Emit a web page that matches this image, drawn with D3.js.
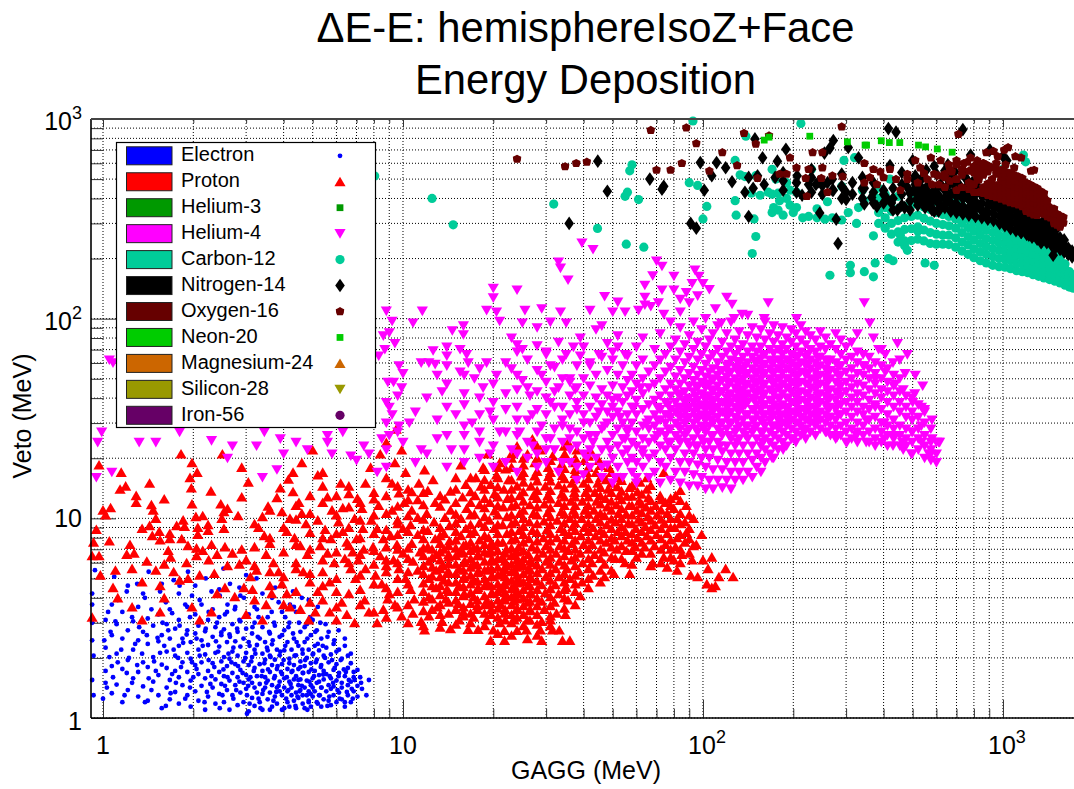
<!DOCTYPE html>
<html><head><meta charset="utf-8"><script src="https://cdn.jsdelivr.net/npm/d3@7"></script>
<style>html,body{margin:0;background:#fff;overflow:hidden}svg{display:block}text{font-family:"Liberation Sans",Arial,sans-serif;fill:#000}</style></head>
<body><svg id="c" width="1074" height="789"></svg>
<script>
const titleLines=["\u0394E-E: hemisphereIsoZ+Face","Energy Deposition"];
const xLabel="GAGG (MeV)", yLabel="Veto (MeV)";
const decades=[1,10,100,1000];
const minorMultiples=[2,3,4,5,6,7,8,9];
const legendNames=["Electron","Proton","Helium-3","Helium-4","Carbon-12","Nitrogen-14","Oxygen-16","Neon-20","Magnesium-24","Silicon-28","Iron-56"];
const legendColors=["#0000ff","#ff0000","#009900","#ff00ff","#00cc99","#000000","#660000","#00cc00","#cc6600","#999900","#660066"];
const legendShapes=["dot","up","square","down","circle","diamond","star","square","up","down","circle"];

// flat lists: GAGG, Veto, GAGG, Veto ... in MeV
const electronData=[1,1.25,1.03,1.42,1.08,1.6,1.02,1.72,1.12,1.9,1.05,2.02,1.15,2.2,1.01,2.45,1.06,2.7,1.1,3.05,1.04,3.4,1.12,3.9,1.2,4.3,1.09,5.1,.93,1.3,.92,1.55,.93,2.05,.92,2.45,.92,3,.92,3.7,.92,4.2,.94,5.5,
1.18,1.3,1.25,1.5,1.2,1.68,1.3,1.84,1.22,2,1.35,2.1,1.28,2.35,1.4,2.6,1.32,2.85,1.25,3.2,1.45,3.5,1.38,4,1.3,4.7,1.42,5.4,1.38,1.2,1.45,1.38,1.42,1.58,1.5,1.72,1.48,1.92,1.55,2.12,1.6,2.3,1.52,2.52,1.65,2.75,1.58,3,1.7,3.35,1.62,3.8,1.55,4.3,1.72,4.9,1.6,5.9,
1.62,1.15,1.68,1.33,1.75,1.5,1.7,1.66,1.82,1.8,1.78,2,1.72,2.2,1.85,2.38,1.9,2.62,1.8,2.9,1.95,3.2,1.88,3.7,1.98,4.1,1.8,4.6,1.92,5.4,1.88,1.25,1.95,1.42,2,1.6,2.05,1.76,1.98,1.9,2.1,2.05,2.15,2.3,2.05,2.5,2.2,2.8,2.12,3.05,2.25,3.4,2.1,3.9,2.3,4.3,2.2,5,
2.18,1.2,2.22,1.35,2.28,1.48,2.3,1.62,2.35,1.8,2.25,1.95,2.42,2.15,2.38,2.42,2.48,2.68,2.4,3,2.55,3.3,2.6,3.7,2.45,4.1,2.65,4.7,2.52,5.6,2.45,1.12,2.5,1.3,2.55,1.45,2.6,1.6,2.52,1.75,2.68,1.9,2.62,2.1,2.72,2.25,2.65,2.55,2.8,2.8,2.85,3.1,2.75,3.5,2.95,4,2.85,4.5,3,5.2,
2.72,1.25,2.78,1.38,2.85,1.52,2.92,1.68,2.82,1.82,2.98,2,3.02,1.3,3.05,1.45,3.1,1.6,3.18,1.72,3.12,1.92,3.22,2.1,3.08,2.3,3.28,2.55,3.15,2.85,3.3,3.2,3.2,3.6,3.4,4.2,3.25,5,
3.02,1.05,3.08,1.18,3.35,1.12,3.3,1.25,3.42,1.38,3.5,1.5,3.38,1.62,3.55,1.75,3.45,1.88,3.62,2.02,3.52,2.25,3.68,2.45,3.58,2.7,3.72,3,3.65,3.4,3.85,3.8,3.75,4.5,
3.6,1.1,3.7,1.22,3.78,1.35,3.85,1.45,3.72,1.58,3.92,1.7,3.82,1.82,4,1.95,3.9,2.15,4.05,2.3,3.95,2.6,4.15,2.85,4.05,3.2,4.2,3.7,4.3,4.3,
4.02,1.12,4.08,1.25,4.15,1.38,4.22,1.48,4.1,1.6,4.28,1.72,4.18,1.88,4.35,2.05,4.42,2.4,4.3,2.65,4.5,3,4.4,3.4,4.6,4,
4.38,1.15,4.45,1.28,4.52,1.36,4.6,1.45,4.48,1.55,4.65,1.68,4.55,1.8,4.72,1.95,4.62,2.2,4.8,2.5,4.7,2.85,4.9,3.2,4.85,3.9,
4.8,1.1,4.85,1.22,4.92,1.32,5,1.42,4.88,1.52,5.05,1.62,4.95,1.75,5.12,1.9,5.02,2.1,5.2,2.35,5.1,2.7,5.3,3,5.2,3.6,
5.2,1.18,5.28,1.3,5.35,1.42,5.25,1.52,5.42,1.65,5.32,1.8,5.5,2,5.4,2.3,5.6,2.55,5.52,2.95,
5.6,1.15,5.68,1.28,5.75,1.4,5.85,1.5,5.7,1.62,5.92,1.78,5.8,1.95,6,2.15,5.9,2.45,6.1,2.75,6.05,1.38,6.15,1.25,6.25,1.5,6.1,1.62,6.35,1.75,6.2,1.95,6.4,2.3,
6.4,1.2,6.5,1.35,6.6,1.55,6.45,1.7,6.7,1.88,6.55,2.05,6.75,1.4,6.8,1.25,6.9,1.55,6.85,1.7,7.05,1.45,7.2,1.6,7.3,1.4,7.55,1.3,7.7,1.55];
// extra readings by column: GAGG first, then its Veto values
const electronColumns=[[1.02,1.5,2.25,3.1],[1.07,1.33,1.82,2.6,3.7],[1.11,1.47,2.1,2.95],[1.16,1.2,1.76,2.5,3.4],[1.21,1.38,1.95,2.75,4.6],[1.26,1.58,2.2,3.05],[1.31,1.28,1.7,2.45,3.6],[1.36,1.44,1.9,2.7,4.2],[1.41,1.22,1.8,2.35,3.15],[1.47,1.52,2.02,2.9],[1.53,1.3,1.64,2.42,3.3],[1.57,1.12,1.85,2.6,4.7],[1.63,1.42,1.78,2.15,2.95],[1.67,1.24,1.55,2.5,3.5],[1.74,1.35,1.72,2.05,2.8],[1.79,1.18,1.6,2.3,3.1,4.2],[1.84,1.46,1.9,2.5],[1.91,1.3,1.7,2.12,2.75,3.6],[1.96,1.14,1.54,1.98,2.4],[2.03,1.36,1.84,2.65,3.3,4.6],[2.08,1.22,1.66,2.2,2.9],[2.13,1.45,1.9,2.45,3.7],[2.19,1.1,1.58,2.08,2.72],[2.24,1.28,1.72,2.32,3.1],[2.32,1.42,1.88,2.55,3.5],[2.37,1.18,1.56,2.12,2.85],[2.44,1.32,1.7,2.28,3.2,4.4],[2.48,1.48,1.92,2.6],[2.53,1.2,1.62,2.02,2.78],[2.59,1.38,1.82,2.4,3.4],[2.64,1.1,1.54,1.98,2.62],[2.7,1.3,1.68,2.15,2.95],[2.76,1.46,1.86,2.42,3.6],[2.81,1.16,1.6,2.05,2.7],[2.87,1.34,1.74,2.28,3.05,4.1],[2.94,1.2,1.5,1.92,2.5],[3,1.4,1.64,2.12,2.8],[3.06,1.08,1.56,1.84,2.4,3.3],[3.14,1.26,1.5,2.02,2.65],[3.2,1.15,1.42,1.78,2.2,3],[3.26,1.34,1.62,2.32,3.5],[3.33,1.2,1.48,1.86,2.5],[3.4,1.1,1.32,1.72,2.1,2.85],[3.47,1.42,1.6,1.96,2.4],[3.54,1.24,1.54,2.18,3.2],[3.6,1.34,1.7,2.05,2.65],[3.66,1.14,1.46,1.84,2.34,4],[3.74,1.28,1.62,1.96,2.9],[3.8,1.18,1.42,1.76,2.2],[3.88,1.36,1.52,2.06,2.55],[3.95,1.1,1.3,1.66,1.86,3.4],[4.02,1.42,1.58,2.18,2.75],[4.12,1.2,1.36,1.76,2.4],[4.18,1.14,1.52,1.98,3],[4.25,1.3,1.42,1.7,2.2],[4.33,1.22,1.56,1.84,2.5,3.6],[4.4,1.12,1.34,1.62,2.06],[4.48,1.26,1.46,1.76,2.3],[4.55,1.38,1.56,1.92,2.7],[4.63,1.18,1.3,1.68,2.1],[4.7,1.12,1.42,1.82,2.4],[4.78,1.3,1.54,2,2.95],[4.85,1.2,1.36,1.7,2.2],[4.93,1.14,1.46,1.88,2.6],[5,1.28,1.58,2.08,3.1],[5.08,1.36,1.72,2.3],[5.16,1.2,1.5,1.96,2.75],[5.25,1.3,1.64,2.18],[5.34,1.14,1.42,1.84,2.5],[5.44,1.24,1.56,1.72,2.05],[5.55,1.36,1.66,2.25],[5.65,1.22,1.46,1.9,2.7],[5.75,1.16,1.58,2.08],[5.87,1.3,1.44,1.74,2.35],[6,1.2,1.54,1.86],[6.12,1.34,1.68,2.2],[6.25,1.24,1.42,1.98],[6.4,1.14,1.62,2.5],[6.55,1.3,1.46,1.78],[6.7,1.2,1.52,2.1],[6.85,1.36,1.6],[7.05,1.28,1.74],[7.25,1.5]];

const protonData=[.97,18.5,1.15,17,1.14,14,1.19,14.5,1.29,13,1.29,12,1.43,15,1.6,12.5,1.45,11.7,1.47,11,1.98,19,2.06,17,1.82,21,1.95,16,1.97,14.2,2.29,13.7,1.98,11.8,2.5,21,2.9,18,3.05,15.2,2.9,12.8,2.47,11.8,2.6,11.2,2.53,10.8,1,11,1.06,11.3,1.02,10.4,1.5,10,1.85,9.8,2.04,10.2,2.15,10.3,2.49,10,2.82,10.3,1.35,8.9,1.43,9.2,1.54,8.6,1.46,8.2,1.76,9.2,1.87,9.1,2.07,9,2.07,8.3,2.24,9.3,2.24,8.7,2.53,8.9,.95,8.8,1.05,7.7,.93,7.6,1.67,8.4,1.67,7.9,1.55,7.8,1.83,7.9,1.23,7.4,1.65,6.9,.92,6.5,.97,6.5,1.2,6.6,1.27,6.7,1.4,6.1,1.25,5.6,1.1,5.5,.98,5.2,1.5,5.5,1.6,5.9,1.72,5.4,1.68,6.4,1.9,6,2.05,6.5,2.15,6.9,2.3,7.4,2.05,7.1,1.92,7.3,2.4,6.6,2.25,6.2,2.7,6.7,2.55,7.2,2.9,7,3,6.2,2.85,5.9,2.6,5.8,2.35,5.3,2.1,5.2,1.92,5,1.8,4.9,1.55,4.6,1.35,4.8,1.08,4.5,.92,3.2,1.12,4,1.25,3.6,1.35,3.1,1.55,3.4,1.6,4,1.98,3.6,2.1,3.1,2.3,3.4,2.4,4.2,2.55,4.5,2.75,4.05,2.95,4.5,3.1,5.1,3.25,5.5,3,3.3,3.4,3.1,3.15,4.4,3.5,3.7,3.65,4.2,
3.3,9,3.45,8.2,3.6,7.5,3.5,6.6,3.7,6,3.85,5.4,3.95,4.7,4.1,4.2,4.2,3.6,4.55,3.5,4.85,3.1,5.1,3.4,5.4,3.9,5.7,3.4,6,3.1,6.5,3.3,6.9,3,3.4,10.2,3.55,11.5,3.8,12.7,3.95,10.8,4.2,10,3.9,14.2,4.15,15.7,4.3,13.6,4.5,12,4.6,10.6,4.75,9.4,4.1,8.6,4.35,8,4.55,7.3,4.8,6.6,4.4,6,4.65,5.4,4.9,4.8,5.2,4.3,4.3,17,4.6,19,5,22,5.2,16.5,5.4,14.5,5.6,12.8,5.8,11,5.2,9.8,5.5,8.8,5.75,7.9,5.3,7.3,5.6,6.7,5.9,6,5.4,5.4,5.7,4.8,6,4.3,6.25,3.8,
6.1,9.6,6.3,8.6,6.5,7.6,6.8,6.8,6.4,6.3,6.7,5.6,6.95,5,7.2,4.4,7.45,3.9,7.7,3.4,8.2,3,8.6,3.5,8.9,3.95,7.5,5.6,7.1,6.2,7.4,7,7,7.9,7.35,8.9,6.9,10,7.3,11.2,7.05,12.6,6.3,11.3,6.6,13.3,6.2,15,7.5,15,7.8,18,8.4,21,8.8,24,9.5,28,8,13.5,8.3,11.6,7.85,9.8,8.2,8.9,8.6,7.9,7.95,7.2,8.4,6.5,8.8,5.8,8.1,5.2,8.5,4.7,9,4.2,9.4,3.7,
9.4,19,9.9,22,10.2,17,9.2,15,9.7,13.4,10.1,12,9.2,11,9.6,9.8,10,8.9,9.1,8.2,9.55,7.4,10,6.7,9.3,6.2,9.7,5.6,10.2,5,10.6,4.4,10.9,3.95,9.9,3.25,10.8,3.35,11.5,3.05,11.2,5.5,10.8,6.1,11.4,6.8,10.7,7.5,11.2,8.3,10.6,9.3,11.2,10.1,10.7,11,11.2,12.4,10.7,13.6,11.3,15,11.8,17.5,12.6,15.6,12.1,13.8,12.8,12,12,10.6,12.7,9.6,12.1,8.7,12.8,7.9,12.1,7.2,12.9,6.6,12.2,6.1,12.9,5.5,12.2,5,12.9,4.5,12.2,4.05,13,3.6,12.2,3.25,11.8,2.76,13.5,3.05,13.9,3.95,14,4.4,13.7,4.9,14,5.3,13.6,5.8,14.2,6.4,13.7,7,14.3,7.7,13.7,8.4,14.3,9.2,13.8,10.1,14.4,11,13.8,12.5,14.4,13.7,15,16,15.6,18.5,16.2,14.8,15.8,12.8,16.3,11.2,15.6,10,16.2,8.9,15.6,8.2,16.2,7.4,15.5,6.8,16.1,6.1,15.4,5.6,16,5.1,15.4,4.6,16,4.2,15.3,3.75,15.9,3.4,15.4,3.1,14.4,2.8,16.5,2.78,17.2,3.2,17.7,3.65,17.2,4.05,17.8,4.5,17.2,4.9,17.9,5.4,17.2,5.9,17.9,6.5,17.2,7.1,18,7.8,17.3,8.6,18,9.5,17.3,10.5,18,11.7,17.4,13,18.2,14.5,17.5,16,18.5,18,19.2,21,
17.8,2.78,19,3.1,19.7,3.5,19.1,3.85,19.8,4.25,19.2,4.65,19.9,5.1,19.2,5.55,20,6.1,19.3,6.7,20,7.3,19.3,8,20.1,8.9,19.4,9.8,20.2,10.9,19.5,12,20.2,13.3,19.6,14.8,20.5,16.5,21,19,20,2.76,21,3,21.8,3.35,21.2,3.7,21.9,4.05,21.2,4.45,22,4.85,21.3,5.3,22,5.8,21.4,6.35,22.1,7,21.5,7.6,22.2,8.4,21.5,9.3,22.2,10.2,21.6,11.4,22.3,12.6,21.7,14,22.5,15.6,22,17.7,23,20,24,23,19.6,2.45,21.8,2.45,21.8,2.75,23.5,3.1,24,3.5,23.5,3.85,24.2,4.2,23.5,4.6,24.2,5,23.5,5.5,24.3,6,23.6,6.6,24.3,7.2,23.7,7.9,24.4,8.7,23.7,9.6,24.5,10.6,23.8,11.7,24.5,13,24,14.5,24.8,16.3,25.2,18.5,26,21,27,25,24,2.75,26,2.5,25.8,2.76,26,3.1,26.6,3.45,26,3.8,26.8,4.2,26.1,4.6,26.8,5,26.1,5.5,26.9,6,26.2,6.6,26.9,7.2,26.3,7.9,27,8.7,26.4,9.6,27.2,10.6,26.5,11.7,27.2,13,26.7,14.5,27.5,16.3,27.5,19,28.7,22,29,2.45,28.7,2.76,29,3.05,29.6,3.5,29,3.85,29.8,4.25,29,4.65,29.9,5.1,29.1,5.6,30,6.1,29.3,6.7,30,7.3,29.4,8,30.2,8.8,29.5,9.7,30.4,10.7,29.6,11.8,30.4,13,29.8,14.5,30.6,16.2,30.5,18,31.5,20.5,31.5,2.76,33.2,2.76,31,3.1,34,2.45,36,2.45,32.5,3.35,32,3.8,33,4.2,32.2,4.65,33.1,5.1,32.3,5.6,33.2,6.1,32.4,6.7,33.3,7.3,32.6,8,33.5,8.9,32.7,9.8,33.7,10.8,33,12,33.8,13.2,33,14.7,34,16.4,33.5,18.3,34.6,21,35.5,24,
34.8,3.3,35.5,3.9,35,4.5,36,5,35.2,5.6,36.4,6.2,35.6,6.9,36.6,7.5,35.8,8.3,36.8,9.1,36,10,37,11,36.3,12.2,37.3,13.5,36.5,15,37.5,16.8,37,19,38,22,39,4.1,39.5,4.8,38.7,5.4,39.7,6,39,6.7,40,7.4,39.2,8.2,40.2,9,39.4,10,40.4,11,39.6,12.2,40.6,13.5,40,15,41,17,40.2,19.5,42,22,43,5.2,42.7,6,43.5,6.6,42.8,7.4,43.8,8.2,43,9,44,10,43.3,11,44.2,12.2,43.6,13.5,44.6,15,44,17,45,19.5,47,5.1,47,5.9,46.8,6.8,47.6,7.6,46.8,8.4,47.8,9.3,47,10.3,48,11.4,47.3,12.6,48.3,14,47.6,15.6,48.6,18,
50.5,5.3,51,6.3,51.6,7,50.8,7.8,52,8.6,51.2,9.6,52.3,10.6,51.5,11.7,52.6,13,51.8,14.4,53,16,55,6,55.5,6.9,56,7.8,55.2,8.6,56.4,9.5,55.5,10.5,56.7,11.6,55.8,12.9,57,14.3,57,5.3,60,6.4,59.6,7.2,60.5,8,59.8,8.9,61,9.9,60.2,11,61.3,12.2,60.5,13.6,61.7,15.2,65,16,64,7.2,65,8.2,64.3,9.1,65.5,10.2,64.6,11.4,65.8,12.7,65,14,68,6,69,7.3,70,8.3,69.2,9.3,70.3,10.4,69.5,11.6,74,17,72,13,76,5.7,74,6.4,75,7.4,76,8.4,74.5,9.4,76,10.6,75,12,82,5.5,80,6.2,81,7.2,82,8,80.5,9,82,10,80,11.2,81,13,84,13.8,88,11.6,87,9.6,88,8.5,87,7.6,85,6.6,91,5.2,92,6.2,93,10,93,7.3,96,5.1,99,8.3,100,6.2,103,4.7,107,4.5,107,6.4,104,5.6,113,5.1,119,5.6,126,5.1,110,4.6,95,7.4];
const protonColumns=[[3.2,3.9,5.8,7.2,9.4],[3.6,4.6,5.4,8,11],[4,3.7,5.1,6.8,9],[4.4,4.3,5.6,7.4,9.9,11.6],[4.9,3.8,5.3,7,8.5,10.6,13],[5.4,4.6,6.2,8,12,17],[6,3.6,5,6.8,8.4,10.4,13],[6.6,4.2,6,7.3,9,11.4,14.5],[7.2,3.7,5.2,6.6,8,9.8,12],[8,3.4,4.7,5.9,6.9,8.4,10.4,12.5],[8.8,3.2,4.5,5.4,6.2,7.2,8.8,10.6,13,16],[9.6,3.6,4.3,5,6,7,8.3,9.4,11.5,14.5],[10.4,3,3.7,4.7,5.4,6.3,7.1,8.6,10.3,12.4,14],
[11.7,2.9,3.45,3.85,4.3,4.75,5.3,5.8,6.5,7.1,7.9,8.8,9.9,11.7,13.5],[13.3,2.85,3.3,3.7,4.15,4.6,5.1,5.6,6.2,6.8,7.5,8.2,9,11.5,13],[15,2.95,3.5,3.9,4.3,4.8,5.3,5.9,6.5,7.1,7.8,8.6,9.5,10.5,12,14],[16.8,3,3.35,3.75,4.25,4.7,5.2,5.7,6.3,6.9,7.6,8.4,9.3,10.4,12,13.6,16],[18.7,2.9,3.35,3.7,4.1,4.6,5,5.5,6.1,6.8,7.4,8.2,9.1,10.2,11.3,12.6,14,15.6,17.6],[20.7,2.65,3.2,3.55,3.9,4.3,4.7,5.2,5.7,6.3,6.9,7.6,8.4,9.3,10.4,11.6,12.8,14.4,16,18],[23,2.6,3,3.3,3.7,4.05,4.45,4.9,5.4,5.9,6.5,7.1,7.8,8.6,9.4,10.4,11.5,12.7,14,15.6,18,21],[25.2,2.9,3.3,3.65,4,4.4,4.8,5.3,5.8,6.3,6.9,7.6,8.3,9.1,10,11,12.2,13.6,15.2,17,20],[28,2.6,2.95,3.3,3.65,4,4.4,4.85,5.35,5.85,6.4,7,7.7,8.5,9.4,10.4,11.4,12.6,13.8,15.4,17.2,20,23],[31,2.9,3.25,3.65,4.05,4.45,4.9,5.35,5.9,6.4,7,7.7,8.4,9.3,10.2,11.3,12.5,13.8,15.4,17,19.5],[34.5,3.55,4,4.4,4.8,5.3,5.85,6.5,7.1,7.8,8.6,9.5,10.5,11.6,12.8,14.2,15.8,17.8,20,23],[37.5,3.7,4.3,4.7,5.2,5.8,6.4,7,7.8,8.7,9.5,10.5,11.6,12.8,14.2,15.8,17.6,20],[41.5,4.5,5,5.6,6.3,7,7.8,8.6,9.5,10.5,11.6,12.8,14.2,15.8,18,20.5],[45.5,4.8,5.5,6.3,7,7.8,8.7,9.6,10.6,11.8,13,14.3,16,18.4],[49.5,5.5,6.4,7.2,8,8.9,9.9,11,12.2,13.5,15,17],[53.5,6.3,7.3,8.2,9.1,10,11.2,12.4,13.7,15.5],[58,5.9,6.9,7.6,8.4,9.4,10.4,11.6,12.9,14.6],[62.5,6.7,7.6,8.6,9.6,10.7,11.8,13.2],[67,5.8,6.7,7.8,8.8,9.8,11,12.3,14.6],[72.5,6,7,7.9,8.9,9.9,11,12.4],[78,6.4,7,7.8,9,10,11.6,12.6],[84,6,7,8.3,9.4,10.6,12.3],[90,6.7,7.9,8.9,10.4],
[12.5,3.5,3.95,4.6,5.15,5.7,6.35,7],[14.2,3.35,3.8,4.3,4.8,5.4,5.95,6.6,7.3],[15.9,3.25,3.6,4.1,4.55,5,5.5,6,6.7,7.3],[17.7,3.5,3.9,4.4,4.85,5.35,5.85,6.5,7.1],[19.7,3.3,3.75,4.2,4.6,5.1,5.6,6.2,6.8,7.5],[21.9,3.1,3.5,3.9,4.25,4.65,5.1,5.55,6.1,6.7],[24,3.2,3.55,3.95,4.3,4.75,5.2,5.7,6.2,6.8],[26.5,3.1,3.5,3.85,4.2,4.6,5.1,5.55,6.1]];

const helium3Data=[];
const heliumData=[.99,27,.96,24,1.07,17,.95,16,1.32,24,1.5,24,1.8,27,2.3,24.5,2.7,23,2.6,20,3.25,23,3.4,16,3.8,17.5,3.9,25,3.45,27,4,21,4.4,24,4.8,22,5.6,26,5.6,24,5.8,21,6.3,27,6.7,20.5,7,19.5,7.4,23,7.7,21,8.2,17,8.8,18,8.8,22,1.08,60,1.05,62,
39.5,239,43,222,33,192,33.5,179,35.5,156,70,194,73,183,68,164,80,163,64,147,73,139,80,139,47,129,52,121,64,128,64,117,71,120,20,142,20,127,24,139,94,175,97,163,92,150,100,150,88,135,84,125,90,120,8.8,109,9.2,97,10.8,95,11.6,109,9,85,8.6,82,9.4,75,8.7,70,8.3,65,9.7,58,10,53,8.9,48,9.3,48,9.9,45,9.6,41,8.8,38,9,36,12.6,69,14,72,14,65,14.6,87,15.9,92,15.9,83,15.5,70,16.3,66,11.5,60,12.2,60,12.8,59,13,52,
19,110,20.5,108,21,97,25.5,110,29,112,33.5,108,25,95,28,90,31,96,23,80,24,74,25,70,28,73,30,68,35,95,39,80,42,110,46,92,50,108,55,108,52,82,48,75,37,72,33,76,35,66,31,58,39,65,42,58,45,66,50,68,55,66,60,72,61,110,67,115,74,105,84,108,96,130,105,140,110,112,120,128,125,118,135,105,160,100,205,100,165,120,115,95,127,100,
16.5,60,15.5,54,17.3,50,19,60,18.5,45,20.5,52,23,56,25,49,24,44,29,52,33,45,26.5,41,36,50,37.5,44,31,38,16,37,13.5,43,12,40,11,34,10.5,30,13,31,15,33,17,30,19.5,34,22,35,24,31,27,33,9.7,29,9,26,10,24,11.5,22,13,25,14.5,22,16,26,18,24,19.5,21,21,27,23,22,24.5,27,27,23,29,29,31,25,34,31,36,25,38,35,40,30,42,26,45,34,47,29,50,39,53,32,56,27,59,36,62,45,65,30,
8.8,30,9.2,33,9.6,27,8.5,25,11,19,12,21,14,18,16,19,18,20,20,18,22,19,24,17,26,20,28,18,30,22,33,17,36,19,38,15.5,41,20,43,24,46,18,49,22,51,16,55,25,58,20,60,16,63,21,
345,120,370,80,360,95,385,70,405,66,430,60,445,75,480,66,510,52,540,46,610,24,600,19,566,21,615,24,
345,58,375,50,405,54,438,47,472,53,508,42,548,35,535,29,580,31,465,44,500,38,535,36,580,25,495,21,465,22,535,24,575,21,498,27,
402,25,430,23,462,24,432,26,402,30,375,36,350,31,375,23,350,24,325,26,302,24,280,25.5,258,27,238,30,218,27,200,25,185,22,170,20,158,24];
const heliumColumns=[[14,26,36,47,58],[16,22,29,42,52],[18,27,33,40,56],[20,23,31,38,47],[22,27,42,60],[24,21,26,36,52,68],[26,24,31,45,62],[28,21,27,35,43,55],[30,19,25,33,40,48,66],[32,22,28,36,43,57],[34,19,24,29,36,50,62],[36,22,28,33,41,48],[38,18,23,27,38,45,58],[40,16.5,21,25,33,41,50,72],[42,18,22,30,36,46,60],[44,20,26,32,40,52,88],[46,16,22,28,37,44,64],[48,18.5,24,30,34,41,55],[50,15,20,26,32,36,46,62],[52,18,23,28,34,40,52,72],[54,16,21,25,30,38,45,58],[56,19,22,28,33,41,49,65],
[58,17,24,30,36,43,52],[60,15,19,23,27,33,39,47,58],[63,18,22,25,29,35,42,50,62,80],[66,16,20,24,28,31,37,45,54],[69,17,21,25,29,33,39,47,58,70],[72,15,19,23,27,31,35,41,50,62,84],[75,18,22,26,30,33,38,44,54,66],[78,15.5,20,24,28,32,35,41,47,57,72,96],[81,17,22,26,30,34,38,44,51,62,78],[84,15,19,24,28,32,36,41,47,55,68,90],[87,17,21,26,30,34,38,43,50,60,74],[90,14.5,19,23,28,32,36,40,46,53,64,82],[93,16.5,21,25,30,34,38,43,49,57,70,96],[96,14.5,18.5,23,27,31,35,39,45,52,62,76],[99,16,20,25,29,33,37,42,48,55,66,88],[102,14,18,22,27,31,35,39,45,51,59,72,100],[105,15.5,20,24,29,33,37,41,47,54,63,78],[108,14,17.5,22,26,30,34,38,43,49,56,66,84],[112,15.5,19.5,24,28,32,36,41,46,52,60,70,92],[116,14.2,17.5,21.5,26,30,34,38,43,49,55,64,76],[120,15.5,19,23,28,32,36,40,45,51,58,68,84],[124,14,17,21,25,30,34,38,42,48,54,62,72,96],[128,15.5,19,23,27,32,36,40,45,50,57,66,78],[132,17,21,25,29,34,38,42,47,53,60,70,86],[136,15.5,19,23,27,31,36,40,44,50,56,64,74],[141,17,21,25,29,33,38,42,47,53,60,68,82,104],[146,16,19.5,23,27,31,35,40,45,50,56,64,72,90],[151,18,21,25,29,33,37,42,47,53,60,68,80],[156,17,20,23,27,31,35,39,44,50,56,63,72,88],[161,19,22,25,29,33,37,42,47,53,59,66,78,96],[167,21,24,27,31,35,39,44,50,56,62,70,84],[172,20,23,26,29,33,37,42,47,53,60,67,76,92],[178,22,25,28,31,35,40,45,50,56,62,70,82],[184,24,27,30,33,37,42,47,53,59,66,74,90],[190,23,26,29,32,35,40,45,50,56,62,70,80],[197,25,28,31,34,38,43,48,54,60,66,76,88],[204,24,27,30,33,37,41,46,51,57,64,72,84],[212,26,29,32,35,39,43,48,54,60,68,78,92],[220,25,28,31,34,38,42,47,52,58,64,74,86],[228,27,30,33,36,40,45,50,56,62,70,82],[237,26,29,32,35,39,44,49,54,60,68,78],[246,28,31,34,38,42,47,52,58,64,72,86],[256,27,30,33,37,41,46,51,56,62,70,80],[266,26,29,32,36,40,44,50,55,62,74],[277,25,28,31,35,39,43,48,54,60,70,84],[288,26,29,33,37,41,46,52,58,66,78],[300,24,27,30,34,38,43,48,54,62,72],[313,25,28,32,36,40,45,50,56,64,76],[327,24,27,30,34,38,42,47,53,60,68,84],[342,26,29,33,36,41,46,52,58,66],[358,24,27,31,35,39,44,50,56,64],[375,25,28,32,37,42,47,53,60],[393,24,27,30,35,40,44,50,58,70],[412,23,26,29,33,38,43,48,56],[432,25,28,31,36,41,46,52],[453,23,26,29,34,38,43,50,62],[475,23,25,28,32,36,41],[498,21,24,27,31,34,40],[522,22,25,28,32,37],[548,20,23,26,30,34],[575,19.5,22,24,28],[600,21,24],
[70.5,26,31,36],[76.5,24,28,33,37],[82.5,25,29,33,36,42],[88.5,24,27,31,35,39],[94.5,23,28,32,36,41,46],[100.5,24,28,32,36,41,47],[106.5,26,31,35,39,44,50],[114,23,27,30,34,38,43,49,55],[122,26,30,33,37,41,47,53,59],[130,24,28,31,35,39,43,48,55,61],[138.5,26,29,33,37,41,46,52,58],[148.5,28,31,35,39,43,48,54,61],[158.5,27,30,33,37,41,46,52,58,66],[170,29,32,35,39,43,48,54,60],[181,29,32,36,40,45,50,56,62,70],[193,30,33,36,40,45,50,56,62],[208,30,34,38,42,47,52,58,65],[224,31,35,38,42,47,53,59,66],[241,33,37,41,46,51,57,64],[261,32,35,39,43,48,54,60],[282,33,37,42,47,52,58]];

const carbonData=[8.05,518,12.5,400,14.7,295,31.8,375,58,590,57,550,56,430,55,410,61,395,44.5,283,55.5,236,63.5,228,90,480,96,465,103,365,100,316,128,620,139,820,92.6,977,212,950,133,525,128,390,129,330,148,316,150,258,146,212,170,340,178,350,185,330,172,360,180,390,195,370,200,340,225,325,240,320,255,315,270,320,290,312,190,400,195,440,205,430,178,425,165,430,150,520,138,515,145,425,155,415,170,420,190,480,170,560,205,360,215,320,240,355,260,385,305,340,330,360,345,390,370,420,340,440,385,450,420,500,295,620,320,640,370,260,325,300,175,500,230,560,290,460,
310,170,370,162,430,195,345,172,375,190,415,200,470,232,520,275,550,190,590,185,480,220,455,262,1190,610,1170,660,1000,560,265,165,310,185];
const carbonColumns=[[385,300,340,400],[405,284,320,360,420],[425,265,300,345,395],[447,242,272,310,355,410],[470,245,280,320,365],[495,246,282,325,370,420],[520,250,288,330,380],[545,245,278,318,362,412],[572,238,270,308,352,398],[600,236,265,300,340,385],[630,236,262,296,332,372],[660,235,262,292,325,365],[695,228,254,284,316,350,385],[730,218,242,270,300,332,368],[765,210,234,258,286,316,350],[800,202,224,248,274,302,332],[840,195,216,238,262,288,316],[880,190,210,230,252,278,306],[925,185,204,224,246,270,296],[970,182,200,220,240,262,288],[1015,181,198,216,236,258,282],[1060,178,195,213,232,252,275],[1110,174,190,208,226,246,268],[1160,172,188,204,222,240,262],[1210,170,185,200,216,234,252],[1260,166,180,195,210,228,245],[1315,163,176,190,205,222,240],[1370,160,172,186,200,215,232],[1430,157,168,180,194,208,222],[1490,154,165,177,190,204,216],[1550,151,161,172,184,196,206],[1610,147,157,168,178,188],[1665,144,154,163,172],[1715,142,150,158,166]];

const nitrogenData=[35.8,300,48,435,44.6,615,66.5,500,73,445,74,460,91,300,95,284,101,440,98,605,111,605,119,570,107,520,125,485,138,430,147,450,142,325,142,510,152,520,160,470,158,640,177,615,189,705,174,510,149,795,206,520,214,415,225,470,243,485,245,338,254,675,265,715,272,780,278,315,282,238,238,470,260,480,272,440,300,430,300,395,305,720,330,640,345,450,345,375,380,365,365,405,410,400,415,895,440,860,735,885,
400,420,425,380,445,350,470,360,490,425,515,395,550,375,590,345,620,365,480,455,510,470,545,440,580,415,615,400,650,385,690,370,730,355,690,430,650,510,620,470,680,495,715,460,745,420,770,395,800,375,835,360,875,340,460,540,420,585,510,520,555,555,590,580,640,550,690,545,500,620,750,510,790,480,830,450,870,420,910,395,950,370,990,350,780,660,905,700,1000,650,1030,620,1110,300,1150,270,1220,262,1260,262,1340,240,1470,208];
const nitrogenColumns=[[185,440,490,540],[205,430,480],[230,430,510,560],[250,420,465],[270,440,500],[290,400,460,530],[315,420,480],[340,400,450,510],[370,380,430,480],[400,380,440],[430,350,400,450],[460,370,420,470],[490,350,390,430],[520,370,420,470],[550,360,400,440],[580,350,385,425],[610,345,380,415],[640,360,400,440],[670,345,380,420],[700,340,375,410],[735,335,365,400,440],[770,330,360,395,430],[810,325,355,385,420],[850,320,350,380,415],[890,315,342,372,405],[930,310,335,362,395],[975,300,325,352,382,415],[1015,292,316,342,370,400],[1060,282,305,330,358,388],[1105,276,298,322,348,376,405],[1150,270,292,314,338,365,395],[1200,264,284,306,330,355,380],[1250,256,276,296,318,342],[1300,250,268,288,310,332],[1350,244,262,282,302],[1400,240,256,274,294,316],[1450,234,250,268,286,305],[1500,228,244,260,278],[1550,222,238,254],[1600,216,232,248],[1650,210,226],[1700,204,218],
[505,440,500],[535,400,450,500],[565,380,420,470],[600,395,450,530],[655,395,465,520,590],[685,360,430,470,540],[720,350,420,460],[755,345,410,455,500],[790,340,400,440]];

const oxygenData=[24,630,34.7,578,37.8,600,41,610,67,880,88,905,95,755,70,555,78,555,85,600,105,550,116,680,130,585,137,850,150,750,166,825,152,505,180,530,195,640,220,505,222,410,260,430,232,680,250,680,290,915,710,840,1270,555,
190,530,205,570,225,560,250,570,270,520,248,505,292,515,345,600,370,560,360,510,345,480,380,470,400,510,390,545,420,560,440,500,455,440,480,530,510,620,530,570,560,500,590,530,610,470,640,530,675,545,700,500,730,560,760,610,790,560,820,510,575,640,620,620,660,590,700,620,740,600,780,640,820,620,860,600,880,680,930,690,960,650,1010,700,1040,720,1100,650,1150,640,1240,550];
const oxygenColumns=[[480,500],[520,480],[545,535],[580,470],[610,520],[640,455,510],[665,490,560],[700,440,500,590],[730,455,525],[770,445,480,550],[800,430,470,540,580],[830,430,495,530,570],[860,425,455,525,560,600],[890,415,445,475,545,585],[920,410,440,470,500,570],[950,405,435,465,530,560,600],[985,398,428,458,490,520,555],[1020,390,420,450,480,512,545,590],[1055,382,410,440,470,500,535],[1090,378,405,432,460,490,525,570],[1125,372,398,425,452,482,515],[1160,365,392,418,445,475,505],[1195,345,372,398,424,450,480],[1230,338,362,388,414,440,470],[1265,332,356,380,405,430,460],[1300,330,352,375,400,425,450],[1335,340,362,385,410,435],[1370,335,358,380,402,425],[1405,325,345,368,390],[1440,320,340,360],[1480,300,318,336,355],[1515,295,315,335],[1550,288,308,328],[1590,302,322]];

const neonData=[160,784,166,811,227,820,303,768,347,740,351,740,393,778,418,762,453,762,523,740,552,725,604,708,677,682];
const magnesiumData=[], siliconData=[], ironData=[];

const rows=d=>d3.range(0,d.length,2).map(i=>[d[i],d[i+1]]);
const cols=c=>c.flatMap(r=>r.slice(1).map(v=>[r[0],v]));
const seriesData=[rows(electronData).concat(cols(electronColumns)),rows(protonData).concat(cols(protonColumns)),rows(helium3Data),rows(heliumData).concat(cols(heliumColumns)),rows(carbonData).concat(cols(carbonColumns)),rows(nitrogenData).concat(cols(nitrogenColumns)),rows(oxygenData).concat(cols(oxygenColumns)),rows(neonData),rows(magnesiumData),rows(siliconData),rows(ironData)];

const svg=d3.select("#c");
const x=d3.scaleLog().domain([0.912,1725]).range([91,1074]);
const y=d3.scaleLog().domain([1,1000]).range([718,119]);
const allMinor=decades.flatMap(d=>minorMultiples.map(m=>d*m)).filter(v=>v<1725);
const gridX=decades.concat(allMinor), gridY=decades.concat(allMinor.filter(v=>v<1000));

const grid=svg.append("g").attr("fill","none").attr("stroke","#000").attr("stroke-dasharray","1 2");
grid.selectAll(".gx").data(gridX).join("line").attr("x1",d=>x(d)).attr("x2",d=>x(d)).attr("y1",718).attr("y2",119);
grid.selectAll(".gy").data(gridY).join("line").attr("y1",d=>y(d)).attr("y2",d=>y(d)).attr("x1",91).attr("x2",1074);

function axis(gen,t){const g=svg.append("g").attr("transform",t).call(gen);g.selectAll("text").remove();g.select(".domain").remove();g.selectAll("line").attr("stroke","#333");return g;}
const fmt=()=>"";
axis(d3.axisBottom(x).tickValues(allMinor).tickSize(-9).tickFormat(fmt),"translate(0,718)");
axis(d3.axisBottom(x).tickValues(decades).tickSize(-18).tickFormat(fmt),"translate(0,718)");
axis(d3.axisTop(x).tickValues(allMinor).tickSize(-4).tickFormat(fmt),"translate(0,119)");
axis(d3.axisTop(x).tickValues(decades).tickSize(-8).tickFormat(fmt),"translate(0,119)");
axis(d3.axisLeft(y).tickValues(allMinor.filter(v=>v<1000)).tickSize(-12).tickFormat(fmt),"translate(91,0)");
axis(d3.axisLeft(y).tickValues(decades).tickSize(-25).tickFormat(fmt),"translate(91,0)");

function shape(s){
  const p=d3.path();
  const poly=a=>{a.forEach((q,i)=>i?p.lineTo(q[0],q[1]):p.moveTo(q[0],q[1]));p.closePath();};
  if(s==="dot")p.arc(0,0,2.4,0,7);
  if(s==="circle")p.arc(0,0,4.6,0,7);
  if(s==="up")poly([[0,-5],[5.6,4.6],[-5.6,4.6]]);
  if(s==="down")poly([[0,5],[5.6,-4.6],[-5.6,-4.6]]);
  if(s==="square")poly([[-3.4,-3.4],[3.4,-3.4],[3.4,3.4],[-3.4,3.4]]);
  if(s==="diamond")poly([[0,-6.8],[4.8,0],[0,6.8],[-4.8,0]]);
  if(s==="star")poly([[0,-4.4],[2,-3.2],[4.2,-2.2],[3.8,1.4],[2.8,3.8],[-2.8,3.8],[-3.8,1.4],[-4.2,-2.2],[-2,-3.2]]);
  return p.toString();
}
seriesData.forEach((d,i)=>{
  svg.append("g").selectAll("path").data(d).join("path")
    .attr("d",shape(legendShapes[i])).attr("fill",legendColors[i])
    .attr("transform",q=>`translate(${x(q[0])},${y(q[1])})`);
});

svg.append("line").attr("x1",91).attr("x2",91).attr("y1",119).attr("y2",718).attr("stroke","#000").attr("stroke-width",1.6);
svg.append("line").attr("x1",91).attr("x2",1074).attr("y1",718).attr("y2",718).attr("stroke","#000").attr("stroke-width",1.6);
svg.append("line").attr("x1",91).attr("x2",1074).attr("y1",119).attr("y2",119).attr("stroke","#444").attr("stroke-width",1.8);

function powerLabel(sel,d){
  const e=Math.round(Math.log10(d));
  if(e===0){sel.text("1");return;}
  sel.append("tspan").text("10");
  if(e>1)sel.append("tspan").attr("dy",-11).attr("font-size",18).text(e);
}
svg.selectAll(".xl").data(decades).join("text").attr("font-size",25).attr("text-anchor","middle")
  .attr("x",d=>x(d)+(d>10?4:0)).attr("y",754).each(function(d){powerLabel(d3.select(this),d);});
svg.selectAll(".yl").data(decades).join("text").attr("font-size",25).attr("text-anchor","end")
  .attr("x",82).attr("y",d=>y(d)+(d===1?12:(d===10?9:11))).each(function(d){powerLabel(d3.select(this),d);});

svg.selectAll(".t").data(titleLines).join("text").attr("font-size",41.6).attr("text-anchor","middle").attr("x",585.5).attr("y",(d,i)=>42+i*52)
  .attr("textLength",(d,i)=>i?341:538).attr("lengthAdjust","spacingAndGlyphs").text(d=>d);
svg.append("text").attr("font-size",25).attr("text-anchor","middle").attr("x",586).attr("y",779).text(xLabel);
svg.append("text").attr("font-size",25).attr("text-anchor","middle").attr("transform","translate(31,416) rotate(-90)").text(yLabel);

const lg=svg.append("g");
lg.append("rect").attr("x",116.5).attr("y",142.5).attr("width",259).attr("height",285).attr("fill","#fff").attr("stroke","#000").attr("stroke-width",1.2);
const row=lg.selectAll(".r").data(legendNames).join("g").attr("transform",(d,i)=>`translate(0,${155.8+i*25.95})`);
row.append("rect").attr("x",126.5).attr("y",-9).attr("width",45.5).attr("height",18).attr("fill",(d,i)=>legendColors[i]).attr("stroke","#222").attr("stroke-width",1);
row.append("text").attr("x",181).attr("y",5.5).attr("font-size",20).text(d=>d);
row.append("path").attr("transform","translate(340,0)").attr("d",(d,i)=>shape(legendShapes[i])).attr("fill",(d,i)=>legendColors[i]);
</script></body></html>
